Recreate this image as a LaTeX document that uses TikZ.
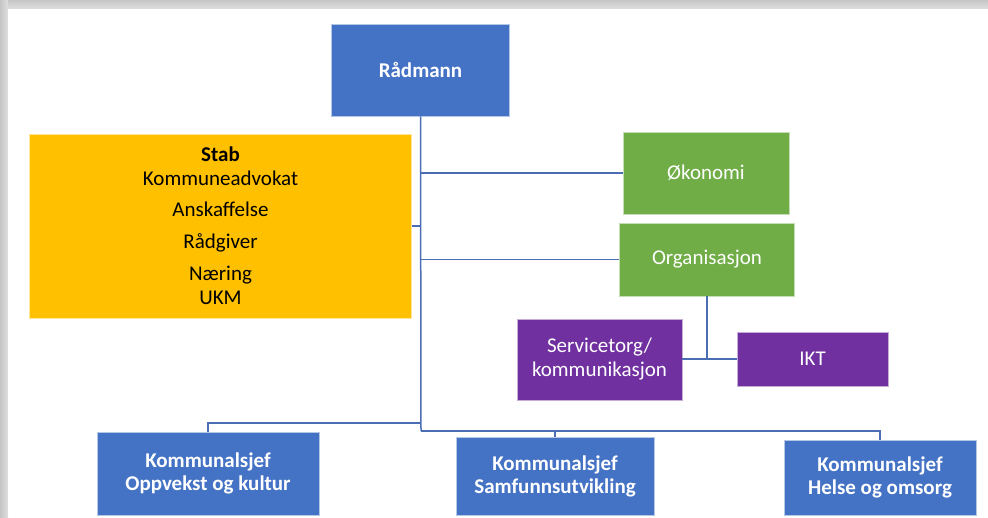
\documentclass[tikz,border=0pt]{standalone}
\usepackage{fontspec}
\setmainfont{Carlito}
\definecolor{orgblue}{HTML}{4472C4}
\definecolor{orggreen}{HTML}{70AD47}
\definecolor{orgyellow}{HTML}{FFC000}
\definecolor{orgpurple}{HTML}{7030A0}
\definecolor{linkblue}{HTML}{4A6DB3}

\begin{document}
\begin{tikzpicture}[x=1pt, y=-1pt,
  unit/.style={rectangle, inner sep=0pt, align=center, fill=#1, draw=white!60!#1,
    line width=.6pt, text=white, font=\fontsize{21}{24}\selectfont},
  boss/.style={unit=orgblue, font=\fontsize{21}{23}\selectfont\bfseries},
  link/.style={draw=linkblue, line width=1.5pt}]
  % page and screenshot shadow
  \useasboundingbox (0,0) rectangle (988,517);
  \clip (0,0) rectangle (988,517);
  \shade [top color=gray!45, bottom color=gray!25] (0,0) rectangle (988,9);
  \shade [left color=gray!45, right color=gray!25] (0,0) rectangle (8,517);
  \fill [white] (8,9) rectangle (988,517);

  \node [boss, minimum width=178pt, minimum height=92pt] (radmann) at (420.5,70) {Rådmann};
  \node [unit=orgyellow, text=black, minimum width=382pt, minimum height=184pt] (stab) at (220.5,226)
    {\textbf{Stab}\\ Kommuneadvokat\\[7pt] Anskaffelse\\[8pt] Rådgiver\\[8pt] Næring\\[0pt] UKM};
  \node [unit=orggreen, minimum width=166pt, minimum height=82pt] (okonomi) at (706,173) {Økonomi};
  \node [unit=orggreen, minimum width=175pt, minimum height=73pt] (organisasjon) at (707,259.5) {Organisasjon};
  \node [unit=orgpurple, minimum width=165pt, minimum height=81pt] (servicetorg) at (599.5,359.5)
    {Servicetorg/\\kommunikasjon};
  \node [unit=orgpurple, minimum width=151pt, minimum height=54pt] (ikt) at (812.5,359) {IKT};
  \node [boss, minimum width=222pt, minimum height=83pt] (oppvekst) at (208,473.5)
    {Kommunalsjef\\Oppvekst og kultur};
  \node [boss, minimum width=198pt, minimum height=78pt] (samfunn) at (555,476)
    {Kommunalsjef\\Samfunnsutvikling};
  \node [boss, minimum width=192pt, minimum height=75pt] (helse) at (880,477.5)
    {Kommunalsjef\\Helse og omsorg};

  \coordinate (split) at (421,423);
  \coordinate (trunk) at (421,431);
  \draw [link] (radmann.south) -- (trunk);
  \draw [link] (stab.east) -- (stab.east -| trunk);
  \draw [link] (okonomi.west) -- (okonomi.west -| trunk);
  \draw [link] (organisasjon.west) -- (organisasjon.west -| trunk);
  \draw [link] (organisasjon.south) -- (organisasjon.south |- ikt.west);
  \draw [link] (servicetorg.east |- ikt.west) -- (ikt.west);
  \draw [link] (split) -| (oppvekst.north);
  \draw [link] (trunk) -| (helse.north);
  \draw [link] (samfunn.north) -- (samfunn.north |- trunk);
\end{tikzpicture}
\end{document}
